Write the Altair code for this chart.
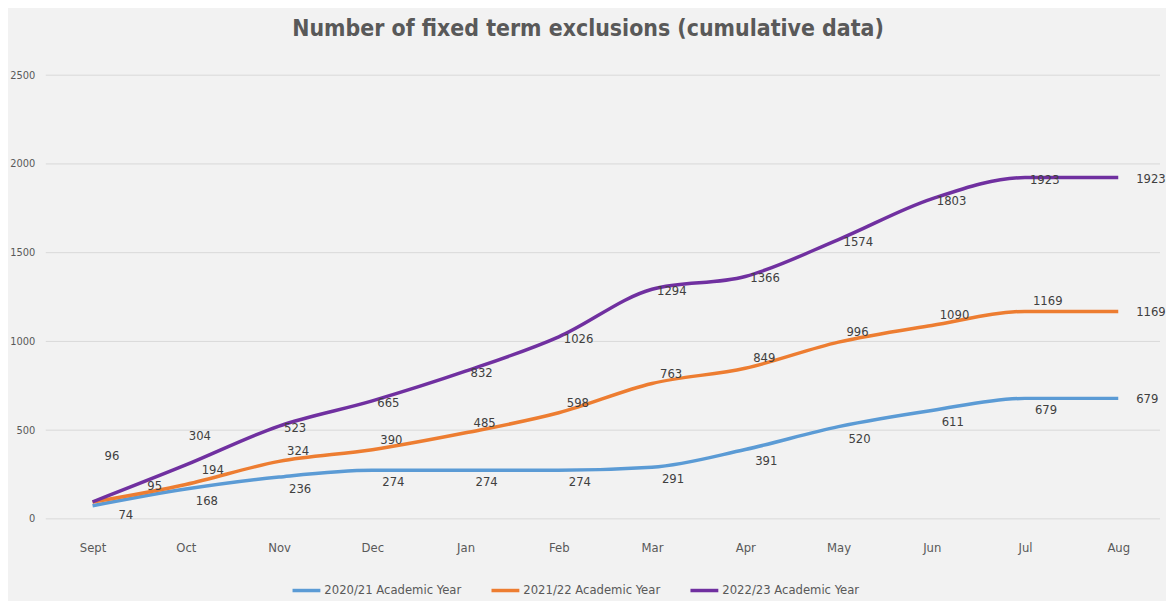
import altair as alt
import pandas as pd

months = ["Sept", "Oct", "Nov", "Dec", "Jan", "Feb", "Mar", "Apr", "May", "Jun", "Jul", "Aug"]
series_names = ["2020/21 Academic Year", "2021/22 Academic Year", "2022/23 Academic Year"]
y2020 = [74, 168, 236, 274, 274, 274, 291, 391, 520, 611, 679, 679]
y2021 = [95, 194, 324, 390, 485, 598, 763, 849, 996, 1090, 1169, 1169]
y2022 = [96, 304, 523, 665, 832, 1026, 1294, 1366, 1574, 1803, 1923, 1923]
y_ticks = [0, 500, 1000, 1500, 2000, 2500]
colors = ["#5b9bd5", "#ed7d31", "#7030a0"]

# label placement (style): default offset per series, with a few exceptions
default_offsets = {
    series_names[0]: (10, 12),
    series_names[1]: (8, -10),
    series_names[2]: (5, 2),
}
special_offsets = {
    (series_names[0], "Sept"): (26, 9),
    (series_names[1], "Sept"): (55, -16),
    (series_names[2], "Sept"): (12, -46),
    (series_names[1], "Oct"): (16, -15),
    (series_names[2], "Oct"): (3, -29),
    (series_names[0], "Aug"): (18, 1),
    (series_names[1], "Aug"): (18, 1),
    (series_names[2], "Aug"): (18, 1),
}

rows = []
for name, vals in zip(series_names, [y2020, y2021, y2022]):
    for m, v in zip(months, vals):
        rows.append({"month": m, "series": name, "value": v})
df = pd.DataFrame(rows)
grid_df = pd.DataFrame({"value": y_ticks})

FONT = "DejaVu Sans Condensed, Liberation Sans Narrow, Roboto, sans-serif"
W, H = 1120, 446

y_scale = alt.Scale(domain=[0, 2500], nice=False)
y_axis = alt.Axis(values=y_ticks, format="d", labelFontSize=11,
                  labelColor="#595959", labelPadding=11, ticks=False, domain=False,
                  grid=False, minExtent=38, maxExtent=38, labelFont=FONT)

x_enc = alt.X("month:N", sort=months, title=None,
              scale=alt.Scale(type="point", range=[47, 1078], padding=0),
              axis=alt.Axis(labelFontSize=13, labelColor="#595959", labelPadding=23,
                            ticks=False, domain=False, grid=False, labelAngle=0, labelFont=FONT))
y_enc = alt.Y("value:Q", title=None, scale=y_scale, axis=y_axis)

grid = alt.Chart(grid_df).mark_rule(color="#d9d9d9", strokeWidth=1).encode(
    y=y_enc,
    x=alt.value(0), x2=alt.value(W),
)

base = alt.Chart(df)

lines = base.mark_line(strokeWidth=3.5, interpolate="monotone").encode(
    x=x_enc, y=y_enc,
    color=alt.Color("series:N", sort=series_names,
                    scale=alt.Scale(domain=series_names, range=colors),
                    legend=alt.Legend(title=None, orient="none", direction="horizontal",
                                      legendX=246, legendY=502,
                                      symbolType="stroke", symbolSize=784, symbolStrokeWidth=3.5,
                                      labelFontSize=13, labelColor="#595959", labelFont=FONT,
                                      columnPadding=23, labelOffset=2)),
)

label_layers = []
for name, (dx, dy) in default_offsets.items():
    skip = [m for (s, m) in special_offsets if s == name]
    skip_list = "[" + ",".join("'" + m + "'" for m in skip) + "]"
    expr = f"datum.series == '{name}' && indexof({skip_list}, datum.month) < 0"
    label_layers.append(
        base.transform_filter(expr)
        .mark_text(align="left", baseline="middle", dx=dx, dy=dy, fontSize=13,
                   color="#404040", font=FONT)
        .encode(x=alt.X("month:N", sort=months), y="value:Q", text="value:Q")
    )
for (name, m), (dx, dy) in special_offsets.items():
    expr = f"datum.series == '{name}' && datum.month == '{m}'"
    label_layers.append(
        base.transform_filter(expr)
        .mark_text(align="left", baseline="middle", dx=dx, dy=dy, fontSize=13,
                   color="#404040", font=FONT)
        .encode(x=alt.X("month:N", sort=months), y="value:Q", text="value:Q")
    )

chart = alt.layer(grid, lines, *label_layers).properties(
    width=W, height=H,
    title=alt.TitleParams("Number of fixed term exclusions (cumulative data)", fontSize=23,
                          fontWeight="bold", color="#595959", font=FONT, anchor="middle",
                          offset=28, dx=-15),
    background="#f2f2f2",
    padding={"left": 0, "right": 0, "top": 9, "bottom": 2},
).configure_view(stroke=None)

chart.save("out.html", embed_options={"renderer": "svg", "actions": False})
